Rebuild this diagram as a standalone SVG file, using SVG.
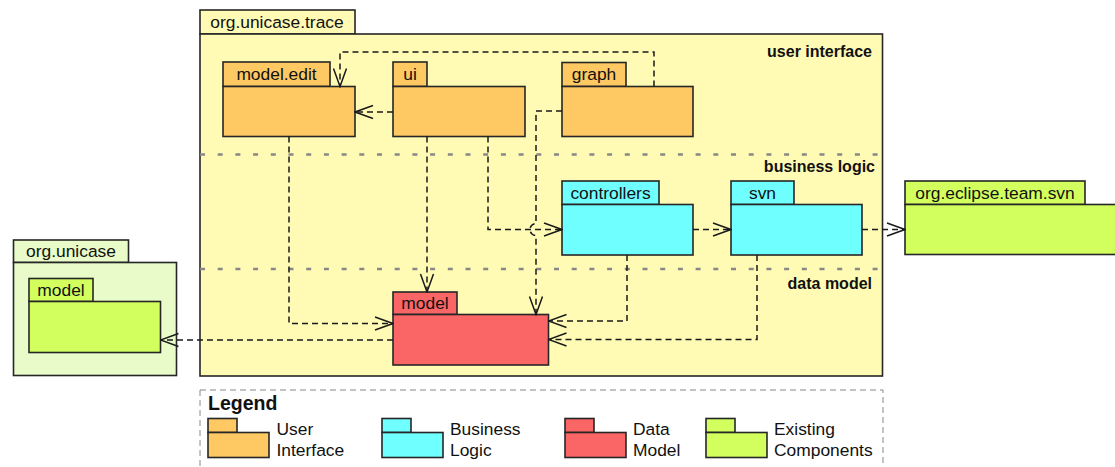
<svg xmlns="http://www.w3.org/2000/svg" width="1115" height="467" viewBox="0 0 1115 467">
<style>
.pk rect{stroke:#262626;stroke-width:1.6}
.ui rect{fill:#FEC862}
.bl rect{fill:#70FFFF}
.dm rect{fill:#FA6666}
.ex rect{fill:#D2FF5E}
.t{font-family:"Liberation Sans",Arial,sans-serif;font-size:17.4px;fill:#111}
.tm{text-anchor:middle}
.b{font-family:"Liberation Sans",Arial,sans-serif;font-size:16px;font-weight:bold;fill:#111;text-anchor:end}
.div{stroke:#888;stroke-width:2.5;stroke-dasharray:5 12.7;fill:none}
.c path{fill:none;stroke:#1a1a1a;stroke-width:1.5;stroke-dasharray:6 4}
.c .a{marker-end:url(#arr)}
</style>
<defs>
<marker id="arr" viewBox="0 0 20 16" refX="19" refY="8" markerWidth="20" markerHeight="16" markerUnits="userSpaceOnUse" orient="auto">
<path d="M1,1.5 L19,8 L1,14.5" fill="none" stroke="#1a1a1a" stroke-width="1.5"/>
</marker>
</defs>
<rect width="1115" height="467" fill="#fff"/>

<g id="org-unicase-trace" class="pk">
<rect x="200" y="10" width="155" height="24" fill="#FFFBB5"/>
<rect x="200" y="34" width="682.5" height="342" fill="#FFFBB5"/>
<text class="t tm" x="277" y="28">org.unicase.trace</text>
<line class="div" x1="200" y1="154.5" x2="882" y2="154.5"/>
<line class="div" x1="200" y1="269" x2="882" y2="269"/>
<text class="b" x="872" y="57">user interface</text>
<text class="b" x="875" y="172">business logic</text>
<text class="b" x="872" y="289">data model</text>
</g>

<g id="model-edit" class="pk ui">
<rect x="223" y="62" width="107" height="24.5"/>
<rect x="223" y="86.5" width="132" height="50"/>
<text class="t tm" x="276.5" y="80">model.edit</text>
</g>

<g id="ui" class="pk ui">
<rect x="393" y="62" width="34" height="24.5"/>
<rect x="393" y="86.5" width="132" height="50"/>
<text class="t tm" x="410" y="80">ui</text>
</g>

<g id="graph" class="pk ui">
<rect x="562" y="62.5" width="64" height="24"/>
<rect x="562" y="86.5" width="131" height="50"/>
<text class="t tm" x="594" y="80">graph</text>
</g>

<g id="controllers" class="pk bl">
<rect x="562" y="181" width="97" height="23.5"/>
<rect x="562" y="204.5" width="131" height="50.5"/>
<text class="t tm" x="610.5" y="198.5">controllers</text>
</g>

<g id="svn" class="pk bl">
<rect x="731" y="181" width="63" height="23.5"/>
<rect x="731" y="204.5" width="131" height="50.5"/>
<text class="t tm" x="762.5" y="198.5">svn</text>
</g>

<g id="model" class="pk dm">
<rect x="393" y="292" width="64" height="22.5"/>
<rect x="393" y="314.5" width="155.5" height="50.5"/>
<text class="t tm" x="425" y="309">model</text>
</g>

<g id="org-unicase" class="pk">
<rect x="13.5" y="240" width="115" height="22.5" fill="#E9FBC8"/>
<rect x="13.5" y="262.5" width="163" height="113" fill="#E9FBC8"/>
<text class="t tm" x="71" y="257">org.unicase</text>
</g>

<g id="org-unicase-model" class="pk ex">
<rect x="29" y="278.5" width="64" height="23"/>
<rect x="29" y="301.5" width="131.5" height="51"/>
<text class="t tm" x="61" y="296">model</text>
</g>

<g id="org-eclipse-team-svn" class="pk ex">
<rect x="905" y="181" width="180" height="23.5"/>
<rect x="905" y="204.5" width="215" height="50"/>
<text class="t tm" x="995" y="198.5">org.eclipse.team.svn</text>
</g>

<g id="connectors" class="c">
<path class="a" d="M654,86.5 V52 H340 V86.5"/>
<path class="a" d="M393,112 H355"/>
<path class="a" d="M427,136.5 V292"/>
<path class="a" d="M488,136.5 V229.5 H562"/>
<path class="a" d="M562,111 H536 V223.5 A6,6 0 0 0 536,235.5 V314.5"/>
<path class="a" d="M289,136.5 V323.5 H393"/>
<path class="a" d="M393,340 H160.5"/>
<path class="a" d="M627,255 V321 H548.5"/>
<path class="a" d="M757,255 V339.5 H548.5"/>
<path class="a" d="M693,229.5 H731"/>
<path class="a" d="M862,229.5 H905"/>
</g>

<g id="legend">
<rect x="200" y="390" width="683" height="95" fill="none" stroke="#888" stroke-width="1" stroke-dasharray="6 4"/>
<text x="208" y="410" style="font-family:'Liberation Sans',Arial,sans-serif;font-size:19.5px;font-weight:bold;fill:#111">Legend</text>
<g class="pk ui">
<rect x="208" y="418.5" width="29" height="14"/>
<rect x="208" y="432.5" width="61" height="25"/>
</g>
<text class="t" x="276.5" y="435">User</text>
<text class="t" x="276.5" y="455.5">Interface</text>
<g class="pk bl">
<rect x="382" y="418.5" width="29" height="14"/>
<rect x="382" y="432.5" width="61" height="25"/>
</g>
<text class="t" x="450" y="435">Business</text>
<text class="t" x="450" y="455.5">Logic</text>
<g class="pk dm">
<rect x="565" y="418.5" width="29" height="14"/>
<rect x="565" y="432.5" width="61" height="25"/>
</g>
<text class="t" x="633" y="435">Data</text>
<text class="t" x="633" y="455.5">Model</text>
<g class="pk ex">
<rect x="706" y="418.5" width="29" height="14"/>
<rect x="706" y="432.5" width="61" height="25"/>
</g>
<text class="t" x="774" y="435">Existing</text>
<text class="t" x="774" y="455.5">Components</text>
</g>
</svg>
